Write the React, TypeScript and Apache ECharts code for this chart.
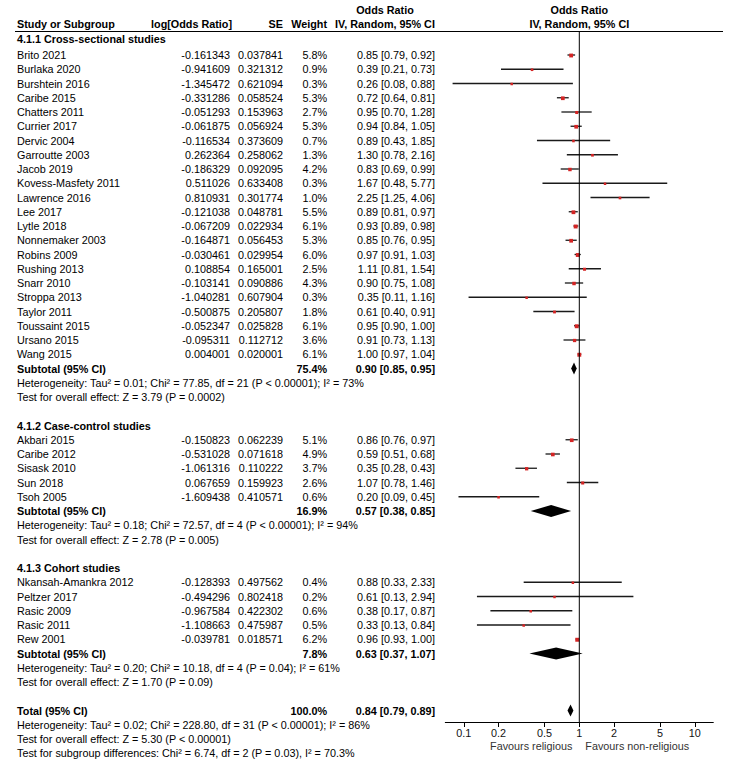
import React, { useEffect, useRef } from "react";
import * as echarts from "echarts";

// ---------- data ----------
const groupTitles = ["4.1.1 Cross-sectional studies", "4.1.2 Case-control studies", "4.1.3 Cohort studies"];

const studyNames = [
  "Brito 2021", "Burlaka 2020", "Burshtein 2016", "Caribe 2015", "Chatters 2011", "Currier 2017",
  "Dervic 2004", "Garroutte 2003", "Jacob 2019", "Kovess-Masfety 2011", "Lawrence 2016", "Lee 2017",
  "Lytle 2018", "Nonnemaker 2003", "Robins 2009", "Rushing 2013", "Snarr 2010", "Stroppa 2013",
  "Taylor 2011", "Toussaint 2015", "Ursano 2015", "Wang 2015",
  "Akbari 2015", "Caribe 2012", "Sisask 2010", "Sun 2018", "Tsoh 2005",
  "Nkansah-Amankra 2012", "Peltzer 2017", "Rasic 2009", "Rasic 2011", "Rew 2001",
];
const studyGroup = [
  0, 0, 0, 0, 0, 0, 0, 0, 0, 0, 0, 0, 0, 0, 0, 0, 0, 0, 0, 0, 0, 0,
  1, 1, 1, 1, 1,
  2, 2, 2, 2, 2,
];
const logOR = [
  -0.161343, -0.941609, -1.345472, -0.331286, -0.051293, -0.061875,
  -0.116534, 0.262364, -0.186329, 0.511026, 0.810931, -0.121038,
  -0.067209, -0.164871, -0.030461, 0.108854, -0.103141, -1.040281,
  -0.500875, -0.052347, -0.095311, 0.004001,
  -0.150823, -0.531028, -1.061316, 0.067659, -1.609438,
  -0.128393, -0.494296, -0.967584, -1.108663, -0.039781,
];
const seVals = [
  0.037841, 0.321312, 0.621094, 0.058524, 0.153963, 0.056924,
  0.373609, 0.258062, 0.092095, 0.633408, 0.301774, 0.048781,
  0.022934, 0.056453, 0.029954, 0.165001, 0.090886, 0.607904,
  0.205807, 0.025828, 0.112712, 0.020001,
  0.062239, 0.071618, 0.110222, 0.159923, 0.410571,
  0.497562, 0.802418, 0.422302, 0.475987, 0.018571,
];
const weights = [
  5.8, 0.9, 0.3, 5.3, 2.7, 5.3, 0.7, 1.3, 4.2, 0.3, 1.0, 5.5, 6.1, 5.3, 6.0, 2.5, 4.3, 0.3, 1.8, 6.1, 3.6, 6.1,
  5.1, 4.9, 3.7, 2.6, 0.6,
  0.4, 0.2, 0.6, 0.5, 6.2,
];
const orVals = [
  0.85, 0.39, 0.26, 0.72, 0.95, 0.94, 0.89, 1.30, 0.83, 1.67, 2.25, 0.89, 0.93, 0.85, 0.97, 1.11, 0.90, 0.35, 0.61, 0.95, 0.91, 1.00,
  0.86, 0.59, 0.35, 1.07, 0.20,
  0.88, 0.61, 0.38, 0.33, 0.96,
];
const ciLow = [
  0.79, 0.21, 0.08, 0.64, 0.70, 0.84, 0.43, 0.78, 0.69, 0.48, 1.25, 0.81, 0.89, 0.76, 0.91, 0.81, 0.75, 0.11, 0.40, 0.90, 0.73, 0.97,
  0.76, 0.51, 0.28, 0.78, 0.09,
  0.33, 0.13, 0.17, 0.13, 0.93,
];
const ciHigh = [
  0.92, 0.73, 0.88, 0.81, 1.28, 1.05, 1.85, 2.16, 0.99, 5.77, 4.06, 0.97, 0.98, 0.95, 1.03, 1.54, 1.08, 1.16, 0.91, 1.00, 1.13, 1.04,
  0.97, 0.68, 0.43, 1.46, 0.45,
  2.33, 2.94, 0.87, 0.84, 1.00,
];

const subWeight = [75.4, 16.9, 7.8];
const subOR = [0.90, 0.57, 0.63];
const subLow = [0.85, 0.38, 0.37];
const subHigh = [0.95, 0.85, 1.07];
const hetTexts = [
  "Heterogeneity: Tau² = 0.01; Chi² = 77.85, df = 21 (P < 0.00001); I² = 73%",
  "Heterogeneity: Tau² = 0.18; Chi² = 72.57, df = 4 (P < 0.00001); I² = 94%",
  "Heterogeneity: Tau² = 0.20; Chi² = 10.18, df = 4 (P = 0.04); I² = 61%",
];
const effectTexts = [
  "Test for overall effect: Z = 3.79 (P = 0.0002)",
  "Test for overall effect: Z = 2.78 (P = 0.005)",
  "Test for overall effect: Z = 1.70 (P = 0.09)",
];
const totalWeight = 100.0;
const totalOR = 0.84;
const totalLow = 0.79;
const totalHigh = 0.89;
const totalTexts = [
  "Heterogeneity: Tau² = 0.02; Chi² = 228.80, df = 31 (P < 0.00001); I² = 86%",
  "Test for overall effect: Z = 5.30 (P < 0.00001)",
  "Test for subgroup differences: Chi² = 6.74, df = 2 (P = 0.03), I² = 70.3%",
];
const axisTicks = [0.1, 0.2, 0.5, 1, 2, 5, 10];
const favourLabels = ["Favours religious", "Favours non-religious"];

// ---------- layout ----------
const FONT = '"Liberation Sans", Arial, Helvetica, sans-serif';
const FS = 10.8;
const Y0 = 12.25;
const DY = 14.25;
const rowY = (i: number) => Y0 + DY * i;
const HEAD1_Y = 10;
const HEAD2_Y = 24;
const FIRST_TITLE_Y = 39;
const HEADER_LINE_Y = 31.5;
const AXIS_Y = 722;
const X_NAME = 17;
const X_LOG = 230;
const X_SE = 283;
const X_W = 327;
const X_CI = 435;
const X_CI_HEAD = 385;
const PLOT_LEFT = 445.3;
const PLOT_W = 268;
const X_MIN = -1.16;
const X_MAX = 1.16;

const fmtCI = (o: number, l: number, h: number) => `${o.toFixed(2)} [${l.toFixed(2)}, ${h.toFixed(2)}]`;

function buildOption() {
  const titleRow: number[] = [];
  const studyRow: number[] = new Array(studyNames.length);
  const subRow: number[] = [];
  const hetRow: number[] = [];
  const effRow: number[] = [];
  let r = 2;
  for (let g = 0; g < groupTitles.length; g++) {
    titleRow[g] = r++;
    for (let i = 0; i < studyNames.length; i++) {
      if (studyGroup[i] === g) studyRow[i] = r++;
    }
    subRow[g] = r++;
    hetRow[g] = r++;
    effRow[g] = r++;
    r++;
  }
  const totalRow = r;

  const graphic: any[] = [];
  const txt = (text: string, x: number, y: number, align = "left", bold = false, color = "#000", size = FS) => {
    graphic.push({
      type: "text",
      x,
      y,
      silent: true,
      style: {
        text,
        fill: color,
        fontSize: size,
        fontWeight: bold ? "bold" : "normal",
        fontFamily: FONT,
        textAlign: align,
        textVerticalAlign: "middle",
        align,
        verticalAlign: "middle",
      },
    });
  };

  const plotCenter = PLOT_LEFT + PLOT_W / 2;
  txt("Odds Ratio", X_CI_HEAD, HEAD1_Y, "center", true);
  txt("Odds Ratio", plotCenter, HEAD1_Y, "center", true);
  txt("Study or Subgroup", X_NAME, HEAD2_Y, "left", true);
  txt("log[Odds Ratio]", X_LOG + 2, HEAD2_Y, "right", true);
  txt("SE", X_SE, HEAD2_Y, "right", true);
  txt("Weight", X_W, HEAD2_Y, "right", true);
  txt("IV, Random, 95% CI", X_CI_HEAD, HEAD2_Y, "center", true);
  txt("IV, Random, 95% CI", plotCenter, HEAD2_Y, "center", true);
  graphic.push({
    type: "line",
    silent: true,
    shape: { x1: 15, y1: HEADER_LINE_Y, x2: 723, y2: HEADER_LINE_Y },
    style: { stroke: "#000", lineWidth: 1 },
  });

  for (let g = 0; g < groupTitles.length; g++) {
    txt(groupTitles[g], X_NAME, g === 0 ? FIRST_TITLE_Y : rowY(titleRow[g]), "left", true);
    txt("Subtotal (95% CI)", X_NAME, rowY(subRow[g]), "left", true);
    txt(subWeight[g].toFixed(1) + "%", X_W, rowY(subRow[g]), "right", true);
    txt(fmtCI(subOR[g], subLow[g], subHigh[g]), X_CI, rowY(subRow[g]), "right", true);
    txt(hetTexts[g], X_NAME, rowY(hetRow[g]));
    txt(effectTexts[g], X_NAME, rowY(effRow[g]));
  }
  for (let i = 0; i < studyNames.length; i++) {
    const y = rowY(studyRow[i]);
    txt(studyNames[i], X_NAME, y);
    txt(logOR[i].toFixed(6), X_LOG, y, "right");
    txt(seVals[i].toFixed(6), X_SE, y, "right");
    txt(weights[i].toFixed(1) + "%", X_W, y, "right");
    txt(fmtCI(orVals[i], ciLow[i], ciHigh[i]), X_CI, y, "right");
  }
  txt("Total (95% CI)", X_NAME, rowY(totalRow), "left", true);
  txt(totalWeight.toFixed(1) + "%", X_W, rowY(totalRow), "right", true);
  txt(fmtCI(totalOR, totalLow, totalHigh), X_CI, rowY(totalRow), "right", true);
  totalTexts.forEach((t, k) => txt(t, X_NAME, rowY(totalRow + 1 + k)));

  const oneX = PLOT_LEFT + (PLOT_W * (0 - X_MIN)) / (X_MAX - X_MIN);
  txt(favourLabels[0], oneX - 7, 746, "right", false, "#333");
  txt(favourLabels[1], oneX + 6, 746, "left", false, "#333");

  const yMin = (HEADER_LINE_Y - Y0) / DY;
  const yMax = (AXIS_Y - Y0) / DY;

  const studyData = studyNames.map((_, i) => [
    Math.log10(orVals[i]),
    studyRow[i],
    Math.log10(ciLow[i]),
    Math.log10(ciHigh[i]),
    weights[i],
  ]);
  const diamondData = [
    ...subOR.map((o, g) => [Math.log10(o), subRow[g], Math.log10(subLow[g]), Math.log10(subHigh[g])]),
    [Math.log10(totalOR), totalRow, Math.log10(totalLow), Math.log10(totalHigh)],
  ];
  const tickVals = axisTicks.map((t) => Math.log10(t));

  return {
    animation: false,
    backgroundColor: "#fff",
    graphic,
    grid: { left: PLOT_LEFT, top: HEADER_LINE_Y, width: PLOT_W, height: AXIS_Y - HEADER_LINE_Y, containLabel: false },
    xAxis: {
      type: "value",
      min: X_MIN,
      max: X_MAX,
      position: "bottom",
      splitLine: { show: false },
      axisLine: { show: true, onZero: false, lineStyle: { color: "#000", width: 1 } },
      axisTick: { show: true, customValues: tickVals, length: 5, inside: false, lineStyle: { color: "#000", width: 1 } },
      axisLabel: {
        show: true,
        customValues: tickVals,
        margin: 5,
        color: "#111",
        fontSize: FS,
        fontFamily: FONT,
        formatter: (v: number) => String(Number(Math.pow(10, v).toPrecision(3))),
      },
    },
    yAxis: {
      type: "value",
      show: false,
      inverse: true,
      min: yMin,
      max: yMax,
      splitLine: { show: false },
    },
    series: [
      {
        type: "line",
        data: [
          [0, yMin],
          [0, yMax],
        ],
        symbol: "none",
        silent: true,
        lineStyle: { color: "#000", width: 1 },
      },
      {
        type: "custom",
        silent: true,
        clip: false,
        data: studyData,
        renderItem: (params: any, api: any) => {
          const row = api.value(1);
          const p = api.coord([api.value(0), row]);
          const pl = api.coord([api.value(2), row]);
          const ph = api.coord([api.value(3), row]);
          const s = 2.4 + api.value(4) * 0.25;
          return {
            type: "group",
            children: [
              {
                type: "line",
                shape: { x1: pl[0], y1: p[1], x2: ph[0], y2: p[1] },
                style: { stroke: "#1a1a1a", lineWidth: 1.3 },
              },
              {
                type: "rect",
                shape: { x: p[0] - s / 2, y: p[1] - s / 2 + 0.5, width: s, height: s },
                style: { fill: "#d42424" },
              },
            ],
          };
        },
      },
      {
        type: "custom",
        silent: true,
        clip: false,
        data: diamondData,
        renderItem: (params: any, api: any) => {
          const row = api.value(1);
          const p = api.coord([api.value(0), row]);
          const pl = api.coord([api.value(2), row]);
          const ph = api.coord([api.value(3), row]);
          const h = 6;
          return {
            type: "polygon",
            shape: {
              points: [
                [pl[0], p[1]],
                [p[0], p[1] - h],
                [ph[0], p[1]],
                [p[0], p[1] + h],
              ],
            },
            style: { fill: "#000" },
          };
        },
      },
    ],
  };
}

export default function App() {
  const ref = useRef<HTMLDivElement>(null);
  useEffect(() => {
    if (!ref.current) return;
    const chart = echarts.init(ref.current, null, { renderer: "svg" });
    chart.setOption(buildOption() as any);
    return () => {
      chart.dispose();
    };
  }, []);
  return (
    <div
      ref={ref}
      style={{ position: "fixed", left: 0, top: 0, width: 730, height: 765, background: "#fff" }}
    />
  );
}
